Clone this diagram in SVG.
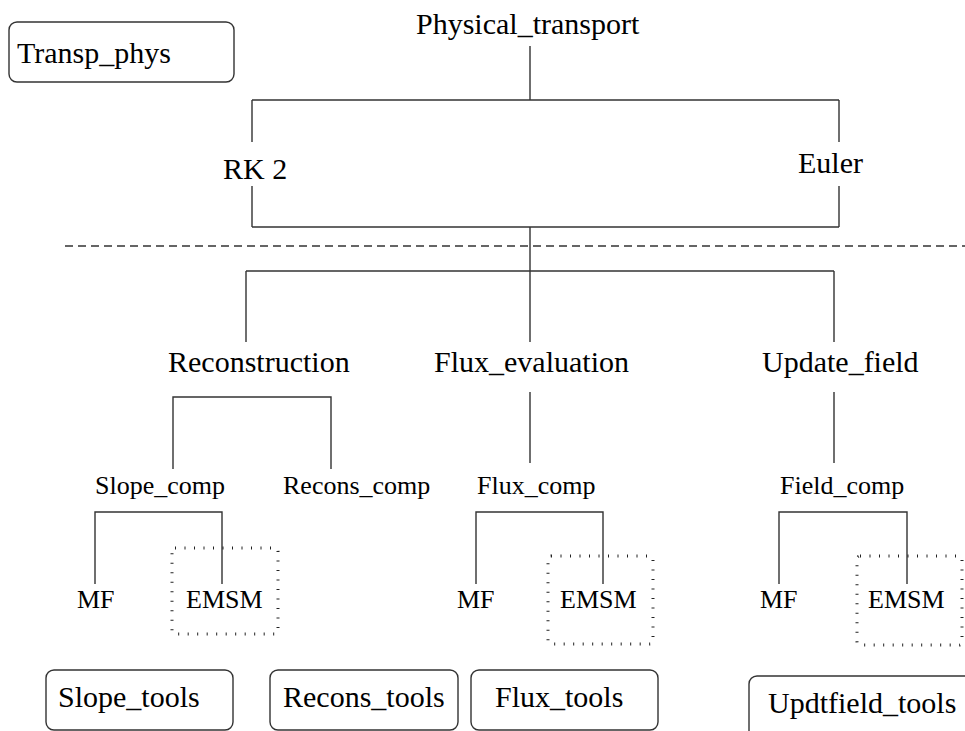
<svg xmlns="http://www.w3.org/2000/svg" width="965" height="731" viewBox="0 0 965 731">
<style>
text{font-family:"Liberation Serif","Times New Roman",serif;fill:#000}
.l{font-size:30px}
.s{font-size:26px}
.c{fill:none;stroke:#333;stroke-width:1.4}
.box{fill:none;stroke:#333;stroke-width:1.4}
.dot{fill:none;stroke:#222;stroke-width:3;stroke-dasharray:1 8.5}
.dash{fill:none;stroke:#333;stroke-width:1.4;stroke-dasharray:8 5}
</style>
<rect width="965" height="731" fill="#fff"/>
<g id="connectors">
<path class="c" d="M530 46V100M252 100H839M252 100V142M839 100V142M252 186V227M839 186V227M252 227H839M530 227V271M246 271H834M246 271V342M530 271V342M834 271V342"/>
<path class="c" d="M173 469V397H331V469M530 392V463M834 392V463"/>
<path class="c" d="M95 584V512H222V584M476 584V512H603V584M779 584V512H907V584"/>
<line class="dash" x1="65" y1="246" x2="965" y2="246"/>
</g>
<g id="Transp_phys"><rect class="box" x="9" y="22" width="225" height="60" rx="8"/><text class="l" x="17" y="63">Transp_phys</text></g>
<g id="Physical_transport"><text class="l" x="416" y="34">Physical_transport</text></g>
<g id="RK2"><text class="l" x="223" y="179">RK 2</text></g>
<g id="Euler"><text class="l" x="798" y="173">Euler</text></g>
<g id="Reconstruction"><text class="l" x="168" y="372">Reconstruction</text></g>
<g id="Flux_evaluation"><text class="l" x="434" y="372">Flux_evaluation</text></g>
<g id="Update_field"><text class="l" x="762" y="372">Update_field</text></g>
<g id="Slope_comp"><text class="s" x="95" y="494">Slope_comp</text></g>
<g id="Recons_comp"><text class="s" x="283" y="494">Recons_comp</text></g>
<g id="Flux_comp"><text class="s" x="477" y="494">Flux_comp</text></g>
<g id="Field_comp"><text class="s" x="780" y="494">Field_comp</text></g>
<g id="MF_slope"><text class="s" x="77" y="608">MF</text></g>
<g id="EMSM_slope"><rect class="dot" x="172" y="548" width="106" height="86" rx="3"/><text class="s" x="186" y="608">EMSM</text></g>
<g id="MF_flux"><text class="s" x="457" y="608">MF</text></g>
<g id="EMSM_flux"><rect class="dot" x="548" y="556" width="105" height="88" rx="3"/><text class="s" x="560" y="608">EMSM</text></g>
<g id="MF_field"><text class="s" x="760" y="608">MF</text></g>
<g id="EMSM_field"><rect class="dot" x="857" y="556" width="105" height="89" rx="3"/><text class="s" x="868" y="608">EMSM</text></g>
<g id="Slope_tools"><rect class="box" x="46" y="670" width="187" height="60" rx="8"/><text class="l" x="58" y="707">Slope_tools</text></g>
<g id="Recons_tools"><rect class="box" x="270" y="670" width="188" height="60" rx="8"/><text class="l" x="283" y="707">Recons_tools</text></g>
<g id="Flux_tools"><rect class="box" x="471" y="670" width="187" height="60" rx="8"/><text class="l" x="495" y="707">Flux_tools</text></g>
<g id="Updtfield_tools"><rect class="box" x="749" y="676" width="240" height="70" rx="8"/><text class="l" x="768" y="713">Updtfield_tools</text></g>
</svg>
